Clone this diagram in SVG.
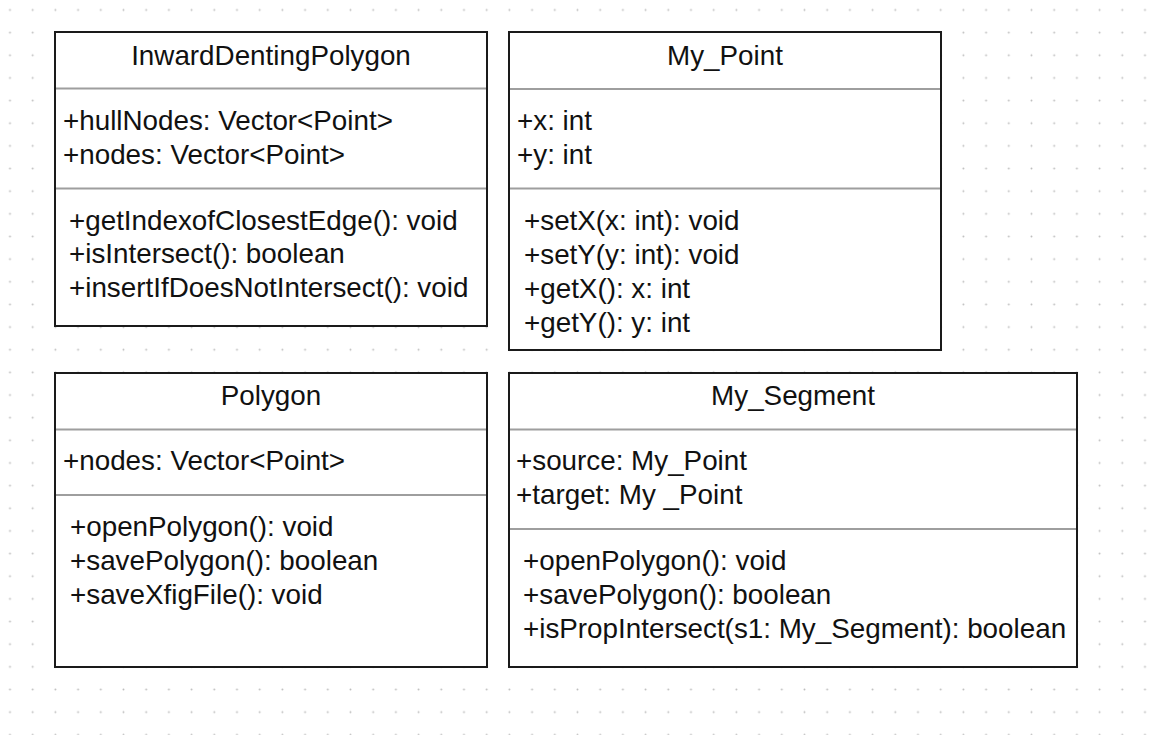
<svg xmlns="http://www.w3.org/2000/svg" width="1151" height="735" viewBox="0 0 1151 735">
<defs>
<pattern id="grid" x="-1.35" y="-1.35" width="22.7" height="22.65" patternUnits="userSpaceOnUse">
<circle cx="11.35" cy="11.35" r="0.95" fill="#bdbdbd"/>
</pattern>
<style>
.box{fill:#ffffff;stroke:#1a1a1a;stroke-width:2}
.sep{stroke:#9e9e9e;stroke-width:2}
.t{font-family:"Liberation Sans",Arial,Helvetica,sans-serif;font-size:27.8px;fill:#111111}
.c{text-anchor:middle}
</style>
</defs>
<rect x="0" y="0" width="1151" height="735" fill="#ffffff"/>
<rect x="0" y="0" width="1151" height="735" fill="url(#grid)"/>

<g id="InwardDentingPolygon">
<rect class="box" x="55" y="32" width="432" height="294"/>
<line class="sep" x1="56" y1="88.5" x2="486" y2="88.5"/>
<line class="sep" x1="56" y1="188.5" x2="486" y2="188.5"/>
<text class="t c" x="271" y="65">InwardDentingPolygon</text>
<text class="t" x="63" y="130">+hullNodes: Vector&lt;Point&gt;</text>
<text class="t" x="63" y="164">+nodes: Vector&lt;Point&gt;</text>
<text class="t" x="69" y="230">+getIndexofClosestEdge(): void</text>
<text class="t" x="69" y="263">+isIntersect(): boolean</text>
<text class="t" x="69" y="297">+insertIfDoesNotIntersect(): void</text>
</g>

<g id="My_Point">
<rect class="box" x="509" y="32" width="432" height="318"/>
<line class="sep" x1="510" y1="89" x2="940" y2="89"/>
<line class="sep" x1="510" y1="188.5" x2="940" y2="188.5"/>
<text class="t c" x="725" y="65">My_Point</text>
<text class="t" x="517" y="130">+x: int</text>
<text class="t" x="517" y="164">+y: int</text>
<text class="t" x="524" y="230">+setX(x: int): void</text>
<text class="t" x="524" y="264">+setY(y: int): void</text>
<text class="t" x="524" y="298">+getX(): x: int</text>
<text class="t" x="524" y="332">+getY(): y: int</text>
</g>

<g id="Polygon">
<rect class="box" x="55" y="373" width="432" height="294"/>
<line class="sep" x1="56" y1="429.5" x2="486" y2="429.5"/>
<line class="sep" x1="56" y1="495" x2="486" y2="495"/>
<text class="t c" x="271" y="405">Polygon</text>
<text class="t" x="63" y="470">+nodes: Vector&lt;Point&gt;</text>
<text class="t" x="70" y="536">+openPolygon(): void</text>
<text class="t" x="70" y="570">+savePolygon(): boolean</text>
<text class="t" x="70" y="604">+saveXfigFile(): void</text>
</g>

<g id="My_Segment">
<rect class="box" x="509" y="373" width="568" height="294"/>
<line class="sep" x1="510" y1="429.5" x2="1076" y2="429.5"/>
<line class="sep" x1="510" y1="529" x2="1076" y2="529"/>
<text class="t c" x="793" y="405">My_Segment</text>
<text class="t" x="516" y="470">+source: My_Point</text>
<text class="t" x="516" y="504">+target: My _Point</text>
<text class="t" x="523" y="570">+openPolygon(): void</text>
<text class="t" x="523" y="604">+savePolygon(): boolean</text>
<text class="t" x="523" y="638">+isPropIntersect(s1: My_Segment): boolean</text>
</g>

<g id="connectors"></g>
</svg>
